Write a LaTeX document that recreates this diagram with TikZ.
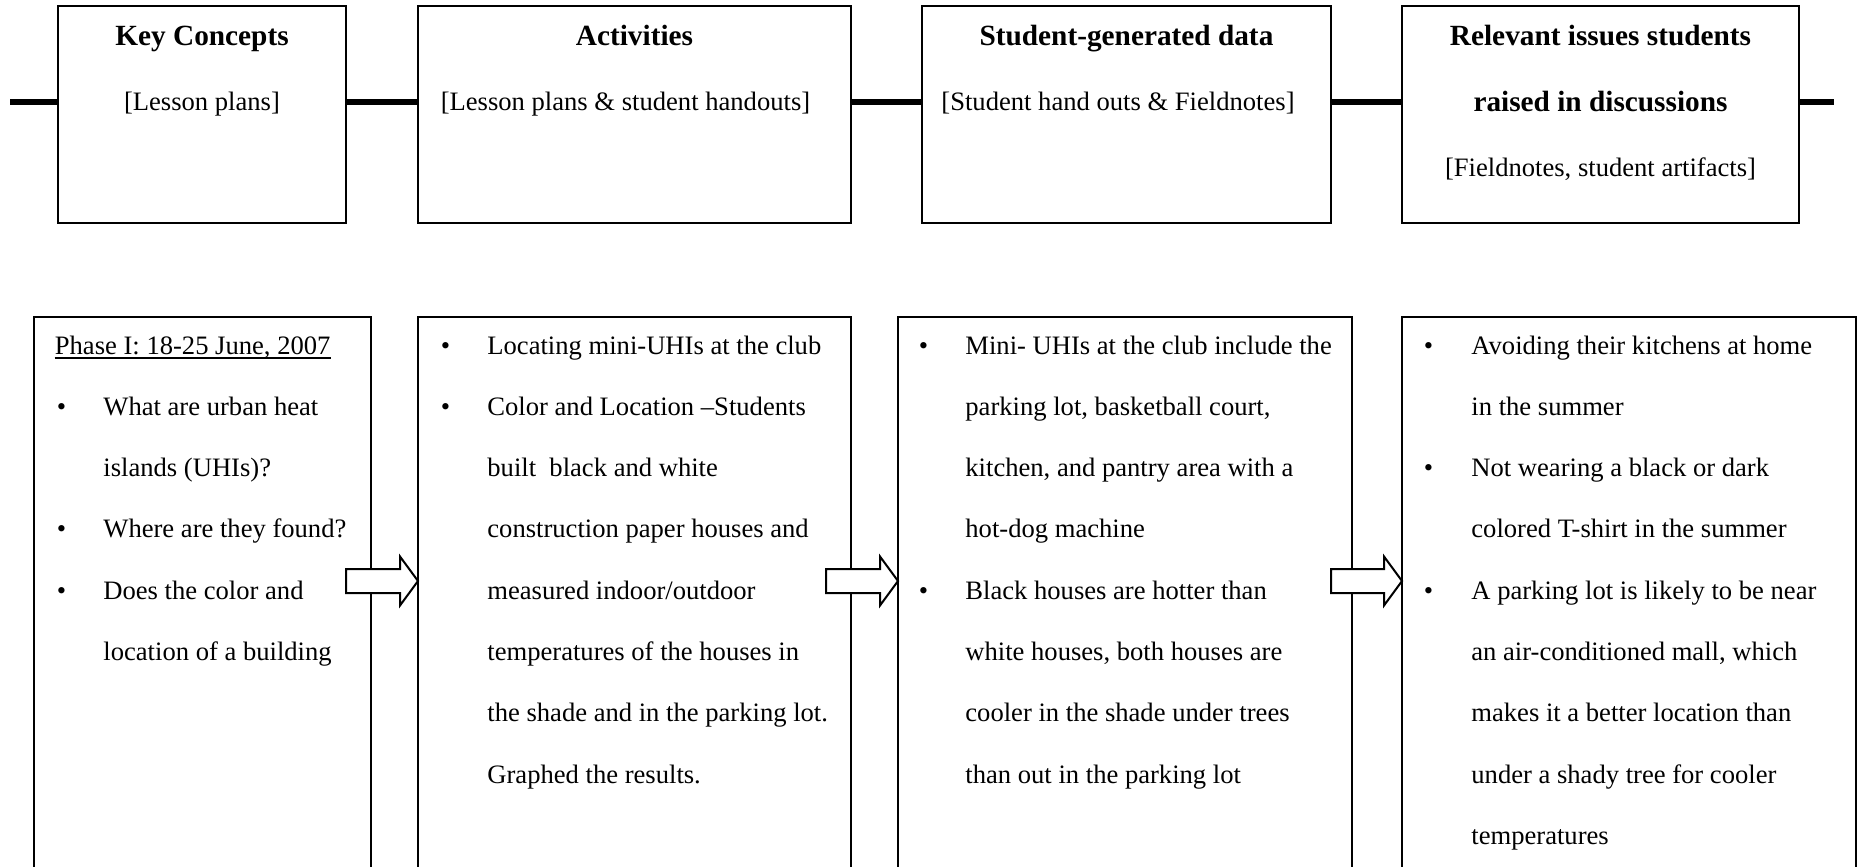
\documentclass[tikz,border=0pt]{standalone}
\usepackage{fontspec}
\setmainfont{Liberation Serif}
\usetikzlibrary{calc}
\tikzset{
  frame/.style={draw=black, line width=1pt, inner sep=0pt, outer sep=0pt},
  conn/.style={line width=3pt, draw=black},
  ttl/.style={font=\fontsize{14.65}{16}\selectfont\bfseries, anchor=base, inner sep=0pt},
  sub/.style={font=\fontsize{13.3}{16}\selectfont, anchor=base, inner sep=0pt},
  txt/.style={font=\fontsize{13.3}{16}\selectfont, anchor=base west, inner sep=0pt},
  barrow/.style={draw=black, fill=white, line width=1pt, line join=miter},
}
\newcommand\myline[4]{\node[txt] (#1) at (#2,{354+61.3*#3}) {#4};}
\newcommand\mybul[3]{\node[txt] (#1) at (#2,{354+61.3*#3}) {\textbullet};}
\newcommand\myarrow[3]{%
  \draw[barrow] ($(#1.east |- ay)+(-#3,-12)$) -- ($(#2.west |- ay)+(-18,-12)$)
    -- ($(#2.west |- ay)+(-18,-24.5)$) -- (#2.west |- ay)
    -- ($(#2.west |- ay)+(-18,24.5)$) -- ($(#2.west |- ay)+(-18,12)$)
    -- ($(#1.east |- ay)+(-#3,12)$) -- cycle;}
\begin{document}
\begin{tikzpicture}[x=0.5pt,y=-0.5pt]
\clip (0,0) rectangle (1858,867);
\fill[white] (0,0) rectangle (1858,867);
% top boxes
\node[frame, minimum width=144pt, minimum height=108.5pt] (t1) at (202,114.5) {};
\node[frame, minimum width=216.5pt, minimum height=108.5pt] (t2) at (634.5,114.5) {};
\node[frame, minimum width=204.5pt, minimum height=108.5pt] (t3) at (1126.5,114.5) {};
\node[frame, minimum width=198.5pt, minimum height=108.5pt] (t4) at (1600.5,114.5) {};
% connectors
\coordinate (cy) at (0,102);
\coordinate (c0) at (10,102);
\coordinate (c5) at (1834,102);
\draw[conn] (c0) -- (t1.west |- cy);
\draw[conn] (t1.east |- cy) -- (t2.west |- cy);
\draw[conn] (t2.east |- cy) -- (t3.west |- cy);
\draw[conn] (t3.east |- cy) -- (t4.west |- cy);
\draw[conn] (t4.east |- cy) -- (c5);
% top texts
\node[ttl] (t1a) at (202,45) {Key Concepts};
\node[sub] (t1b) at (202,110) {[Lesson plans]};
\node[ttl] (t2a) at (634.5,45) {Activities};
\node[sub] (t2b) at (625.5,110) {[Lesson plans \& student handouts]};
\node[ttl] (t3a) at (1126.5,45) {Student-generated data};
\node[sub] (t3b) at (1118,110) {[Student hand outs \& Fieldnotes]};
\node[ttl] (t4a) at (1600.5,45) {Relevant issues students};
\node[ttl] (t4b) at (1600.5,111) {raised in discussions};
\node[sub] (t4c) at (1600.5,176) {[Fieldnotes, student artifacts]};
% bottom boxes
\node[frame, minimum width=168.5pt, minimum height=306.5pt] (b1) at (202.5,623.5) {};
\node[frame, minimum width=216.5pt, minimum height=306.5pt] (b2) at (634.5,623.5) {};
\node[frame, minimum width=227pt, minimum height=306.5pt] (b3) at (1125,623.5) {};
\node[frame, minimum width=227pt, minimum height=306.5pt] (b4) at (1629,623.5) {};
% box 1 text
\myline{ph}{54.5}{0}{Phase I: 18-25 June, 2007}
\draw[line width=0.7pt] ($(ph.base west)+(0,4)$) -- ($(ph.base east)+(0,4)$);
\mybul{p1a}{56.5}{1}
\myline{p1b}{103}{1}{What are urban heat}
\myline{p1c}{103}{2}{islands (UHIs)?}
\mybul{p1d}{56.5}{3}
\myline{p1e}{103}{3}{Where are they found?}
\mybul{p1f}{56.5}{4}
\myline{p1g}{103}{4}{Does the color and}
\myline{p1h}{103}{5}{location of a building}
% box 2 text
\mybul{p2a}{440.5}{0}
\myline{p2b}{487}{0}{Locating mini-UHIs at the club}
\mybul{p2c}{440.5}{1}
\myline{p2d}{487}{1}{Color and Location –Students}
\myline{p2e}{487}{2}{built\ \ black and white}
\myline{p2f}{487}{3}{construction paper houses and}
\myline{p2g}{487}{4}{measured indoor/outdoor}
\myline{p2h}{487}{5}{temperatures of the houses in}
\myline{p2i}{487}{6}{the shade and in the parking lot.}
\myline{p2j}{487}{7}{Graphed the results.}
% box 3 text
\mybul{p3a}{918.5}{0}
\myline{p3b}{965}{0}{Mini- UHIs at the club include the}
\myline{p3c}{965}{1}{parking lot, basketball court,}
\myline{p3d}{965}{2}{kitchen, and pantry area with a}
\myline{p3e}{965}{3}{hot-dog machine}
\mybul{p3f}{918.5}{4}
\myline{p3g}{965}{4}{Black houses are hotter than}
\myline{p3h}{965}{5}{white houses, both houses are}
\myline{p3i}{965}{6}{cooler in the shade under trees}
\myline{p3j}{965}{7}{than out in the parking lot}
% box 4 text
\mybul{p4a}{1423.5}{0}
\myline{p4b}{1471}{0}{Avoiding their kitchens at home}
\myline{p4c}{1471}{1}{in the summer}
\mybul{p4d}{1423.5}{2}
\myline{p4e}{1471}{2}{Not wearing a black or dark}
\myline{p4f}{1471}{3}{colored T-shirt in the summer}
\mybul{p4g}{1423.5}{4}
\myline{p4h}{1471}{4}{A parking lot is likely to be near}
\myline{p4i}{1471}{5}{an air-conditioned mall, which}
\myline{p4j}{1471}{6}{makes it a better location than}
\myline{p4k}{1471}{7}{under a shady tree for cooler}
\myline{p4l}{1471}{8}{temperatures}
% block arrows
\coordinate (ay) at (0,581);
\myarrow{b1}{b2}{25}
\myarrow{b2}{b3}{25}
\myarrow{b3}{b4}{21}
\end{tikzpicture}
\end{document}
